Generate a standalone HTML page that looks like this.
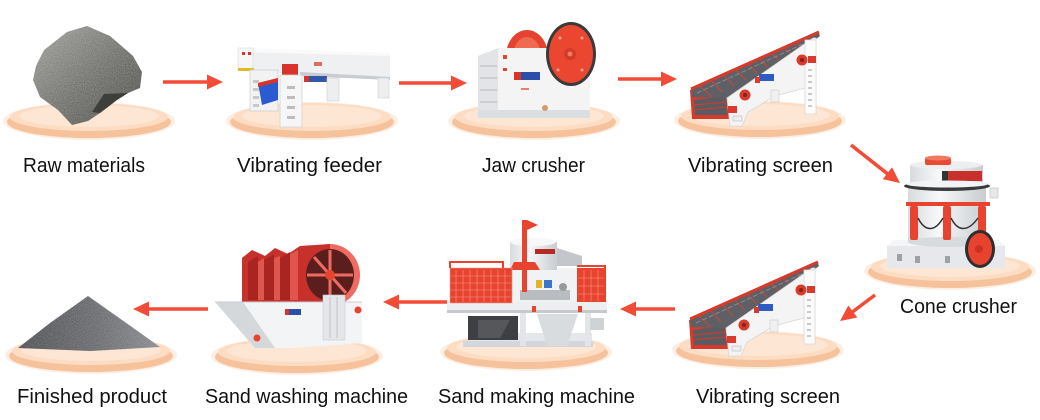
<!DOCTYPE html>
<html><head><meta charset="utf-8"><style>
html,body{margin:0;padding:0;background:#fff;}
svg{display:block;}
</style></head><body>
<svg width="1040" height="420" viewBox="0 0 1040 420" xmlns="http://www.w3.org/2000/svg">
<defs>
 <linearGradient id="rockG" x1="0" y1="0" x2="1" y2="1">
  <stop offset="0" stop-color="#a3a49f"/><stop offset="0.5" stop-color="#767772"/><stop offset="1" stop-color="#50514d"/>
 </linearGradient>
 <linearGradient id="pileG" x1="0" y1="0" x2="1" y2="0">
  <stop offset="0" stop-color="#55565a"/><stop offset="0.55" stop-color="#6e6f73"/><stop offset="1" stop-color="#8d8e92"/>
 </linearGradient>
 <linearGradient id="cylG" x1="0" y1="0" x2="1" y2="0">
  <stop offset="0" stop-color="#d8dbde"/><stop offset="0.4" stop-color="#f7f8f9"/><stop offset="1" stop-color="#c9ccd0"/>
 </linearGradient>
 <filter id="grain" x="0" y="0" width="100%" height="100%">
  <feTurbulence type="fractalNoise" baseFrequency="0.9" numOctaves="2" seed="3"/>
  <feColorMatrix type="matrix" values="0 0 0 0 1  0 0 0 0 1  0 0 0 0 1  0 0 0 0.9 -0.35"/>
  <feComposite in2="SourceGraphic" operator="in"/>
 </filter>
 <g id="plate">
  <ellipse cx="0" cy="20" rx="86" ry="19" fill="#fdeee3"/>
  <ellipse cx="0" cy="21" rx="82" ry="16" fill="#f6c29c"/>
  <ellipse cx="0" cy="16" rx="79" ry="14" fill="#fcdcc2"/>
  <ellipse cx="0" cy="15" rx="70" ry="11" fill="#fde6d3"/>
 </g>
 <g id="vscreen">
  <polygon points="690,90 728,84 730,119 692,119" fill="#d63a2c"/>
  <polygon points="694,100 726,96 727,115 695,115" fill="#5b5c61"/>
  <g stroke="#d63a2c" stroke-width="1"><line x1="694" y1="105" x2="726" y2="102"/><line x1="694" y1="110" x2="726" y2="107"/></g>
  <polygon points="691,88 818,31 820,36 815,40 728,98 692,97" fill="#5e6065"/>
  <g stroke="#c9463a" stroke-width="1">
   <line x1="700" y1="86" x2="712" y2="97"/><line x1="712" y1="81" x2="722" y2="92"/><line x1="724" y1="75" x2="734" y2="86"/><line x1="736" y1="70" x2="746" y2="80"/><line x1="748" y1="64" x2="757" y2="73"/><line x1="760" y1="59" x2="768" y2="67"/><line x1="772" y1="53" x2="780" y2="61"/><line x1="784" y1="48" x2="791" y2="54"/><line x1="796" y1="42" x2="802" y2="47"/><line x1="808" y1="37" x2="812" y2="41"/>
  </g>
  <line x1="697" y1="93" x2="816" y2="38" stroke="#888a8e" stroke-width="1" stroke-dasharray="5 2"/>
  <line x1="691" y1="89" x2="819" y2="32" stroke="#d63a2c" stroke-width="3"/>
  <polygon points="727,98 813,38 816,38 816,113 805,113 805,88 775,96 748,112 742,126 730,126" fill="#f4f4f4" stroke="#d8d8d8" stroke-width="0.8"/>
  <rect x="805" y="40" width="11" height="74" fill="#fbfbfb" stroke="#dadada" stroke-width="0.8"/>
  <g stroke="#9a9a9a" stroke-width="1"><line x1="808" y1="70" x2="812" y2="70"/><line x1="808" y1="76" x2="812" y2="76"/><line x1="808" y1="82" x2="812" y2="82"/><line x1="808" y1="88" x2="812" y2="88"/><line x1="808" y1="94" x2="812" y2="94"/><line x1="808" y1="100" x2="812" y2="100"/><line x1="808" y1="106" x2="812" y2="106"/></g>
  <circle cx="745" cy="95" r="5.5" fill="#d83a2c"/><circle cx="745" cy="95" r="2" fill="#8c1f18"/>
  <circle cx="802" cy="60" r="5.5" fill="#d83a2c"/><circle cx="802" cy="60" r="2" fill="#8c1f18"/>
  <rect x="808" y="56" width="8" height="7" fill="#d83a2c"/>
  <rect x="728" y="106" width="9" height="7" fill="#d83a2c"/>
  <rect x="759" y="74" width="15" height="7" fill="#2f5cc4"/><rect x="755" y="77" width="5" height="6" fill="#d83a2c"/>
  <rect x="771" y="90" width="8" height="12" fill="#f0f0f0" stroke="#ccc" stroke-width="0.6"/>
  <rect x="733" y="116" width="9" height="5" fill="#eee" stroke="#bbb" stroke-width="0.6"/>
 </g>
</defs>

<!-- plates -->
<use href="#plate" transform="translate(89,101)"/>
<use href="#plate" transform="translate(312,101)"/>
<use href="#plate" transform="translate(534,101)"/>
<use href="#plate" transform="translate(760,100)"/>
<use href="#plate" transform="translate(950,251)"/>
<use href="#plate" transform="translate(758,330)"/>
<use href="#plate" transform="translate(526,332)"/>
<use href="#plate" transform="translate(297,336)"/>
<use href="#plate" transform="translate(91,335)"/>

<!-- Raw materials rock -->
<g>
 <polygon points="33,80 36,66 44,50 67,32 87,26 110,36 133,56 142,72 140,88 128,93 117,100 100,113 88,121 72,125 58,110 40,97" fill="url(#rockG)"/>
 <polygon points="33,80 36,66 44,50 67,32 87,26 110,36 133,56 142,72 140,88 128,93 117,100 100,113 88,121 72,125 58,110 40,97" fill="#ffffff" filter="url(#grain)" opacity="0.6"/>
 <polygon points="104,94 128,93 117,100 100,113 92,112" fill="#3e3f3b"/>
</g>

<!-- Vibrating feeder -->
<g>
 <polygon points="238,48 390,53 390,79 300,74 238,71" fill="#eef0f2"/>
 <polygon points="238,48 390,53 390,56 238,52" fill="#fafafa"/>
 <polygon points="300,72 390,77 390,80 300,76" fill="#c9cdd1"/>
 <rect x="238" y="48" width="15" height="22" fill="#f6f6f6" stroke="#ddd" stroke-width="0.6"/>
 <rect x="238" y="68" width="16" height="3" fill="#e0b829"/>
 <rect x="242" y="52" width="3" height="3" fill="#d9342b"/><rect x="248" y="52" width="3" height="3" fill="#d9342b"/>
 <rect x="282" y="64" width="16" height="13" fill="#d9342b"/>
 <rect x="250" y="70" width="28" height="41" fill="#f2f2f2" stroke="#cfcfcf" stroke-width="0.8"/>
 <polygon points="258,83 278,78 278,100 262,105" fill="#2a5bd0"/>
 <polygon points="258,83 278,78 278,82 258,87" fill="#d9342b"/>
 <g fill="#c8c8c8"><rect x="253" y="80" width="6" height="3"/><rect x="253" y="88" width="6" height="3"/><rect x="253" y="96" width="6" height="3"/><rect x="253" y="104" width="6" height="3"/></g>
 <rect x="280" y="75" width="22" height="52" fill="#f6f6f6" stroke="#d5d5d5" stroke-width="0.8"/>
 <g fill="#bdbdbd"><rect x="287" y="86" width="8" height="3"/><rect x="287" y="96" width="8" height="3"/><rect x="287" y="106" width="8" height="3"/><rect x="287" y="116" width="8" height="3"/></g>
 <rect x="307" y="76" width="20" height="6" fill="#3355aa"/><rect x="304" y="76" width="5" height="6" fill="#d9342b"/>
 <rect x="314" y="62" width="8" height="4" fill="#e06a5c"/>
 <rect x="327" y="78" width="12" height="23" fill="#eceef0" stroke="#d0d0d0" stroke-width="0.6"/>
 <rect x="378" y="78" width="11" height="20" fill="#eceef0" stroke="#d0d0d0" stroke-width="0.6"/>
</g>

<!-- Jaw crusher -->
<g>
 <ellipse cx="527" cy="56" rx="21" ry="26" fill="#e5432f"/>
 <ellipse cx="527" cy="56" rx="14" ry="19" fill="#f06a52"/>
 <rect x="498" y="48" width="92" height="70" fill="#f4f4f5"/>
 <polygon points="478,56 498,48 498,118 478,118" fill="#e2e4e7"/>
 <g stroke="#c4c7cb" stroke-width="1.5"><line x1="480" y1="66" x2="497" y2="66"/><line x1="480" y1="78" x2="497" y2="78"/><line x1="480" y1="90" x2="497" y2="90"/><line x1="480" y1="102" x2="497" y2="102"/></g>
 <rect x="478" y="110" width="112" height="8" fill="#dcdfe2"/>
 <rect x="514" y="72" width="26" height="8" fill="#2b4fa8"/><rect x="514" y="72" width="7" height="8" fill="#d9342b"/>
 <rect x="503" y="55" width="4" height="4" fill="#e5432f"/>
 <rect x="503" y="68" width="4" height="3" fill="#e5432f"/>
 <rect x="521" y="88" width="8" height="2" fill="#e58070"/>
 <circle cx="545" cy="108" r="3" fill="#d59a6a"/>
 <ellipse cx="571" cy="54" rx="25" ry="32" fill="#3a3a3a"/>
 <ellipse cx="571" cy="54" rx="22" ry="29" fill="#ea4630"/>
 <circle cx="570" cy="54" r="6" fill="#d33a27"/>
 <circle cx="570" cy="54" r="2.5" fill="#f07a64"/>
 <g fill="#f9a898"><circle cx="560" cy="38" r="1.5"/><circle cx="582" cy="38" r="1.5"/><circle cx="558" cy="70" r="1.5"/><circle cx="582" cy="70" r="1.5"/></g>
</g>

<!-- Vibrating screen top -->
<use href="#vscreen"/>

<!-- Cone crusher -->
<g>
 <rect x="887" y="246" width="118" height="22" fill="#e6e8eb"/>
 <polygon points="887,246 1005,246 998,240 894,240" fill="#f4f5f6"/>
 <g fill="#9ea2a6"><rect x="897" y="254" width="5" height="7"/><rect x="915" y="256" width="5" height="7"/><rect x="945" y="256" width="5" height="7"/></g>
 <rect x="908" y="188" width="78" height="54" fill="url(#cylG)"/>
 <ellipse cx="947" cy="242" rx="39" ry="5" fill="#d8dbde"/>
 <rect x="910" y="165" width="73" height="21" fill="url(#cylG)"/>
 <ellipse cx="946" cy="165" rx="36" ry="4" fill="#eceef0"/>
 <rect x="925" y="158" width="26" height="7" rx="2" fill="#e84a33"/>
 <ellipse cx="938" cy="158" rx="13" ry="2.5" fill="#f07a60"/>
 <rect x="942" y="171" width="40" height="10" fill="#c9302c"/>
 <rect x="942" y="171" width="6" height="10" fill="#333"/>
 <ellipse cx="947" cy="186" rx="43" ry="5" fill="#3a3a3a"/>
 <ellipse cx="947" cy="184" rx="41" ry="3.5" fill="#f2f3f4"/>
 <rect x="906" y="202" width="84" height="4" fill="#e8432f"/>
 <rect x="910" y="206" width="8" height="34" rx="2" fill="#e8432f"/>
 <rect x="943" y="206" width="8" height="34" rx="2" fill="#e8432f"/>
 <rect x="978" y="206" width="8" height="30" rx="2" fill="#e8432f"/>
 <path d="M918,218 C925,232 935,232 943,218 M951,218 C958,232 968,232 978,218" stroke="#333" stroke-width="1.5" fill="none"/>
 <rect x="990" y="188" width="8" height="10" fill="#e8e8e8" stroke="#bbb" stroke-width="0.6"/>
 <ellipse cx="980" cy="249" rx="15" ry="19" fill="#2e2e2e"/>
 <ellipse cx="980" cy="249" rx="12" ry="16" fill="#e8432f"/>
 <circle cx="979" cy="249" r="4" fill="#c93321"/>
</g>

<!-- Vibrating screen bottom -->
<use href="#vscreen" transform="translate(-1,230)"/>

<!-- Sand making machine -->
<g>
 <rect x="470" y="333" width="122" height="14" fill="#e5e7ea"/>
 <rect x="463" y="341" width="130" height="6" fill="#d3d6da"/>
 <rect x="468" y="316" width="50" height="24" fill="#3d3f43"/>
 <polygon points="478,320 510,320 500,338 478,338" fill="#55575b"/>
 <polygon points="537,314 578,314 567,346 547,346" fill="#d9dcdf"/>
 <rect x="520" y="312" width="6" height="34" fill="#e3e5e8"/>
 <rect x="585" y="312" width="6" height="34" fill="#e3e5e8"/>
 <rect x="590" y="318" width="14" height="12" fill="#d0d3d6"/>
 <rect x="447" y="302" width="160" height="11" fill="#eceef0"/>
 <rect x="447" y="310" width="160" height="3" fill="#c6c9cd"/>
 <rect x="510" y="268" width="68" height="34" fill="#f1f2f3"/>
 <rect x="520" y="290" width="50" height="10" fill="#b9bdc2"/>
 <rect x="536" y="280" width="6" height="8" fill="#e0b32a"/><rect x="544" y="280" width="8" height="8" fill="#3b76c8"/>
 <circle cx="563" cy="287" r="4" fill="#999"/>
 <rect x="510" y="242" width="47" height="28" fill="url(#cylG)"/>
 <ellipse cx="533" cy="242" rx="23" ry="4" fill="#f6f7f8"/>
 <rect x="535" y="249" width="20" height="5" fill="#b42a24"/>
 <polygon points="557,248 582,256 582,266 557,266" fill="#c3c6ca"/>
 <rect x="522" y="220" width="5" height="72" fill="#e8432f"/>
 <polygon points="527,220 538,225 527,230" fill="#e8432f"/>
 <polygon points="514,262 535,262 540,270 510,270" fill="#e8432f"/>
 <rect x="450" y="268" width="62" height="35" fill="#e8432f"/>
 <rect x="450" y="268" width="62" height="35" fill="none" stroke="#f7a090" stroke-width="0.6"/>
 <g stroke="#f59a88" stroke-width="0.6">
  <line x1="456" y1="270" x2="456" y2="302"/><line x1="463" y1="270" x2="463" y2="302"/><line x1="470" y1="270" x2="470" y2="302"/><line x1="477" y1="270" x2="477" y2="302"/><line x1="484" y1="270" x2="484" y2="302"/><line x1="491" y1="270" x2="491" y2="302"/><line x1="498" y1="270" x2="498" y2="302"/><line x1="505" y1="270" x2="505" y2="302"/>
  <line x1="451" y1="276" x2="511" y2="276"/><line x1="451" y1="283" x2="511" y2="283"/><line x1="451" y1="290" x2="511" y2="290"/><line x1="451" y1="297" x2="511" y2="297"/>
 </g>
 <polyline points="450,268 450,262 503,262 503,268" stroke="#e8432f" stroke-width="2" fill="none"/>
 <rect x="577" y="268" width="28" height="34" fill="#e8432f"/>
 <g stroke="#f59a88" stroke-width="0.6"><line x1="584" y1="270" x2="584" y2="301"/><line x1="591" y1="270" x2="591" y2="301"/><line x1="598" y1="270" x2="598" y2="301"/><line x1="578" y1="278" x2="604" y2="278"/><line x1="578" y1="286" x2="604" y2="286"/><line x1="578" y1="294" x2="604" y2="294"/></g>
 <polyline points="577,266 605,266 605,302" stroke="#e8432f" stroke-width="2" fill="none"/>
 <rect x="532" y="306" width="4" height="6" fill="#e8432f"/><rect x="578" y="306" width="4" height="6" fill="#e8432f"/>
</g>

<!-- Sand washing machine -->
<g>
 <ellipse cx="330" cy="275" rx="30" ry="31" fill="#ef6b62"/>
 <polygon points="242,258 252,250 265,256 275,248 288,254 300,246 330,244 330,306 242,306" fill="#c8302c"/>
 <g fill="#a82522"><polygon points="248,262 258,256 258,300 248,300"/><polygon points="264,260 274,254 274,300 264,300"/><polygon points="280,258 290,252 290,300 280,300"/></g>
 <g fill="#e0554c"><polygon points="258,262 264,258 264,300 258,300"/><polygon points="274,258 280,256 280,300 274,300"/><polygon points="290,254 298,250 298,300 290,300"/></g>
 <ellipse cx="330" cy="275" rx="24" ry="26" fill="#5a1f1d"/>
 <g stroke="#ef6b62" stroke-width="3"><line x1="330" y1="250" x2="330" y2="300"/><line x1="307" y1="275" x2="353" y2="275"/><line x1="314" y1="257" x2="346" y2="293"/></g>
 <circle cx="330" cy="275" r="5" fill="#e8432f"/>
 <polygon points="215,302 362,302 362,343 292,348 255,348" fill="#f3f4f5"/>
 <polygon points="215,302 243,302 275,348 255,348" fill="#d5d8db"/>
 <line x1="215" y1="302" x2="362" y2="302" stroke="#c8cbce" stroke-width="1"/>
 <rect x="323" y="295" width="22" height="45" fill="#e4e6e9" stroke="#c9ccd0" stroke-width="0.6"/>
 <g stroke="#bfc2c6" stroke-width="1"><line x1="330" y1="297" x2="330" y2="338"/><line x1="337" y1="297" x2="337" y2="338"/></g>
 <rect x="287" y="309" width="14" height="6" fill="#2b4fa8"/><rect x="285" y="309" width="4" height="6" fill="#d9342b"/>
 <circle cx="257" cy="338" r="3.5" fill="#e8432f"/>
 <circle cx="358" cy="310" r="3.5" fill="#e8432f"/>
</g>

<!-- Finished product pile -->
<g>
 <polygon points="18,348 50,323 88,296 122,320 160,347 90,351" fill="url(#pileG)"/>
 <polygon points="18,348 50,323 88,296 122,320 160,347 90,351" fill="#ffffff" filter="url(#grain)" opacity="0.45"/>
</g>

<!-- arrows -->
<g fill="#f24b36" stroke="#f24b36">
 <line x1="163" y1="82" x2="209" y2="82" stroke-width="3.5"/>
 <polygon points="207,74.5 223,82 207,89.5" stroke="none"/>
 <line x1="399" y1="83" x2="453" y2="83" stroke-width="3.5"/>
 <polygon points="451,75.5 467,83 451,90.5" stroke="none"/>
 <line x1="618" y1="79" x2="663" y2="79" stroke-width="3.5"/>
 <polygon points="661,71.5 677,79 661,86.5" stroke="none"/>
 <line x1="851" y1="145" x2="889" y2="175" stroke-width="3.5"/>
 <polygon points="882.8,179.1 900,183 892,167.3" stroke="none"/>
 <line x1="875" y1="295" x2="851" y2="313" stroke-width="3.5"/>
 <polygon points="857.3,317.5 840,321 848.3,305.5" stroke="none"/>
 <line x1="675" y1="309" x2="634" y2="309" stroke-width="3.5"/>
 <polygon points="636,301.5 620,309 636,316.5" stroke="none"/>
 <line x1="447" y1="302" x2="397" y2="302" stroke-width="3.5"/>
 <polygon points="399,294.5 383,302 399,309.5" stroke="none"/>
 <line x1="208" y1="309" x2="147" y2="309" stroke-width="3.5"/>
 <polygon points="149,301.5 133,309 149,316.5" stroke="none"/>
</g>

<!-- labels -->
<g font-family="'Liberation Sans', 'DejaVu Sans', sans-serif" font-size="20" fill="#111">
 <text x="23" y="172" textLength="122" lengthAdjust="spacingAndGlyphs">Raw materials</text>
 <text x="237" y="172" textLength="145" lengthAdjust="spacingAndGlyphs">Vibrating feeder</text>
 <text x="482" y="172" textLength="103" lengthAdjust="spacingAndGlyphs">Jaw crusher</text>
 <text x="688" y="172" textLength="145" lengthAdjust="spacingAndGlyphs">Vibrating screen</text>
 <text x="900" y="313" textLength="117" lengthAdjust="spacingAndGlyphs">Cone crusher</text>
 <text x="696" y="403" textLength="144" lengthAdjust="spacingAndGlyphs">Vibrating screen</text>
 <text x="438" y="403" textLength="197" lengthAdjust="spacingAndGlyphs">Sand making machine</text>
 <text x="205" y="403" textLength="203" lengthAdjust="spacingAndGlyphs">Sand washing machine</text>
 <text x="17" y="403" textLength="150" lengthAdjust="spacingAndGlyphs">Finished product</text>
</g>
</svg>
</body></html>
